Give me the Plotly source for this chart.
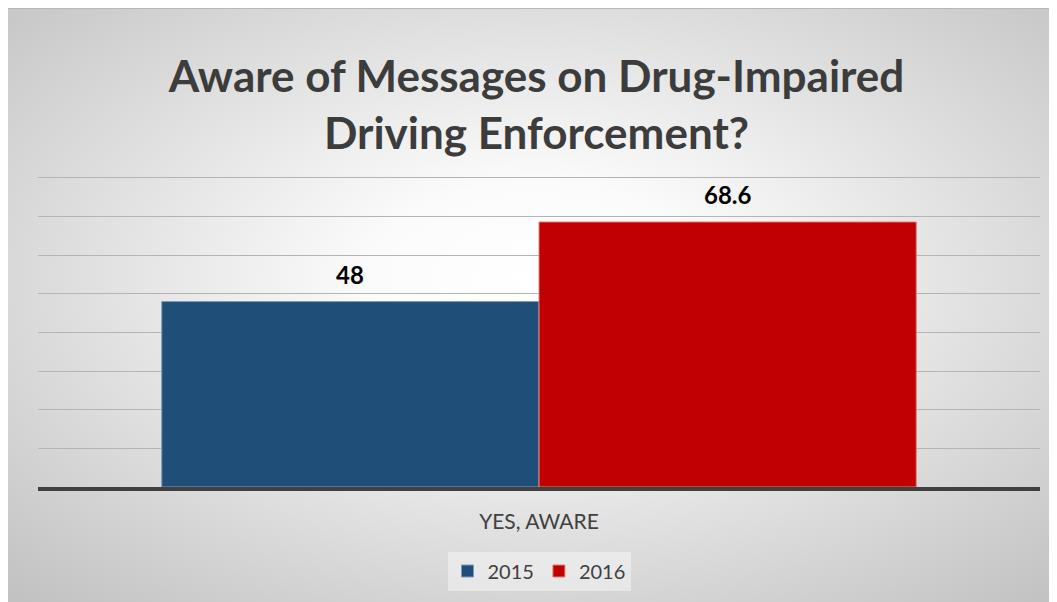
import base64
import plotly.graph_objects as go

categories = ["YES, AWARE"]
series_names = ["2015", "2016"]
values_2015 = [48]
values_2016 = [68.6]
colors = ["#1F4E79", "#C00000"]
edge_colors = ["#7f9ab8", "#e08080"]
title_text = "Aware of Messages on Drug-Impaired<br>Driving Enforcement?"

W, H = 1057, 602
L, R, T, B = 30, 25, 168, 123
pw, ph = W - L - R, H - T - B
BARGAP = 0.247

svg = (
    "<svg xmlns='http://www.w3.org/2000/svg' width='1057' height='602' viewBox='0 0 1057 602' preserveAspectRatio='none'>"
    "<defs><radialGradient id='g' cx='0.5' cy='0.45' r='0.72'>"
    "<stop offset='0' stop-color='#ffffff'/><stop offset='0.22' stop-color='#fbfbfb'/>"
    "<stop offset='1' stop-color='#c2c2c2'/></radialGradient></defs>"
    "<rect x='0' y='0' width='1057' height='602' fill='url(#g)'/>"
    "<line x1='0' y1='0.5' x2='1057' y2='0.5' stroke='#b8b8b8' stroke-width='1'/>"
    "</svg>"
)
src = "data:image/svg+xml;base64," + base64.b64encode(svg.encode()).decode()

fig = go.Figure()
all_vals = [values_2015, values_2016]
for name, vals, c, ec in zip(series_names, all_vals, colors, edge_colors):
    fig.add_trace(go.Bar(
        x=categories, y=vals, name=name,
        marker=dict(color=c, line=dict(color=ec, width=1)),
    ))

bar_px = pw * (1 - BARGAP) / len(series_names)
annotations = []
for i, vals in enumerate(all_vals):
    for cat, v in zip(categories, vals):
        annotations.append(dict(
            x=cat, y=v, xref="x", yref="y", text=f"{v:g}", showarrow=False,
            xanchor="center", yanchor="bottom", yshift=11,
            xshift=(i - (len(series_names) - 1) / 2) * bar_px,
            font=dict(family="Lato", size=24, color="#000000", weight="bold"),
        ))

fig.update_layout(
    width=W, height=H,
    margin=dict(l=L, r=R, t=T, b=B),
    paper_bgcolor="white", plot_bgcolor="rgba(0,0,0,0)",
    barmode="group", bargap=BARGAP, bargroupgap=0,
    title=dict(text=title_text, x=0.5, xanchor="center", y=1 - 84 / H, yanchor="middle",
               font=dict(family="Lato", size=44, color="#3c3c3c", weight="bold")),
    showlegend=True,
    legend=dict(orientation="h", x=0.5, xanchor="center", y=(H - 563 - B) / ph, yanchor="middle",
                font=dict(family="Lato", size=20, color="#404040"),
                bgcolor="rgba(250,250,250,0.45)", traceorder="normal"),
    annotations=annotations,
    images=[dict(source=src, xref="paper", yref="paper",
                 x=-L / pw, y=(H - B) / ph, sizex=W / pw, sizey=H / ph,
                 xanchor="left", yanchor="top", sizing="stretch", layer="below")],
    xaxis=dict(showline=True, linecolor="#404040", linewidth=4, showgrid=False,
               tickfont=dict(family="Lato", size=21, color="#404040"),
               ticks="", ticklabelstandoff=13),
    yaxis=dict(range=[0, 80.5], tickvals=[10, 20, 30, 40, 50, 60, 70, 80], showgrid=True,
               gridcolor="#b4b4b4", gridwidth=1,
               showticklabels=False, zeroline=False, showline=False, ticks=""),
)

fig.write_html("out.html")
